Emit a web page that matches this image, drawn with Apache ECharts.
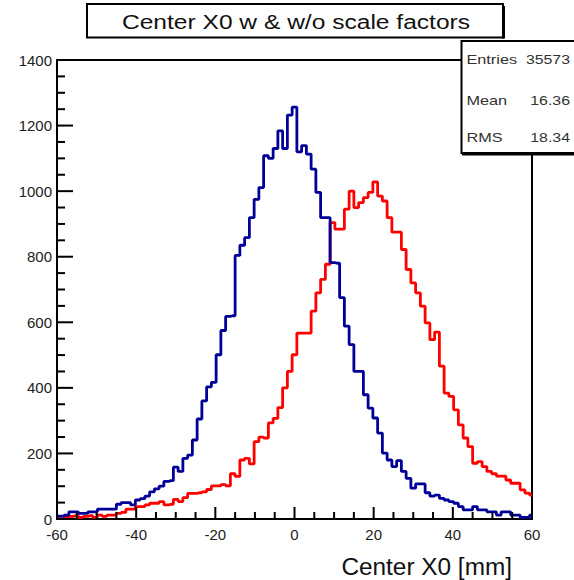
<!DOCTYPE html>
<html>
<head>
<meta charset="utf-8">
<script src="https://cdn.jsdelivr.net/npm/echarts@6/dist/echarts.min.js"></script>
<style>
html,body{margin:0;padding:0;background:#fff;}
#c{width:574px;height:580px;}
</style>
</head>
<body>
<div id="c"></div>
<script>
// Histogram definition: 101 bins of 1.2 mm, centred on -60 ... 60
const binStart = -60;
const binWidth = 1.2;
// Bin contents (left to right)
const blueCounts = [9,9,12,22,22,17,17,22,22,30, 30,30,30,45,50,50,43,58,62,70,
  83,92,100,115,117,158,145,185,195,241, 305,360,403,417,501,575,618,620,804,835,
  858,919,975,1011,1108,1100,1130,1184,1130,1232, 1256,1120,1139,1113,1067,996,919,919,782,780,
  675,588,532,450,450,379,338,308,262,201, 180,160,178,145,124,94,107,107,80,70,
  73,63,58,53,48,38,28,28,38,28, 28,22,22,12,22,22,12,12,5,5, 12];
const redCounts = [5,8,5,8,10,5,8,10,5,12, 8,12,12,17,20,30,30,38,38,43,
  48,48,53,43,45,60,53,65,78,78, 80,83,90,101,101,105,101,138,130,180,
  185,168,236,250,247,293,307,340,400,450, 501,567,567,567,634,690,731,777,904,884,
  884,945,1000,950,965,980,996,1028,985,970, 919,875,875,822,761,720,690,649,598,547,
  570,466,384,374,333,287,247,221,170,175, 160,145,138,131,131,119,109,109,89,79, 73];
const xTicks = [-60, -40, -20, 0, 20, 40, 60];
const yTicks = [0, 200, 400, 600, 800, 1000, 1200, 1400];
const xMinorStep = 5;
const yMinorStep = 50;
const titleText = 'Center X0 w & w/o scale factors';
const xTitle = 'Center X0 [mm]';
const statsLabels = ['Entries', 'Mean', 'RMS'];
const statsValues = ['35573', '16.36', '18.34'];

function toPairs(counts) {
  return counts.map((v, i) => [+(binStart + i * binWidth).toFixed(2), v]);
}

const X_MIN = xTicks[0], X_MAX = xTicks[xTicks.length - 1];
const Y_MIN = yTicks[0], Y_MAX = yTicks[yTicks.length - 1];

// tick marks (value, isMajor)
const xTickMarks = [];
for (let v = X_MIN; v <= X_MAX + 1e-9; v += xMinorStep) xTickMarks.push([v, xTicks.indexOf(v) >= 0 ? 1 : 0]);
const yTickMarks = [];
for (let v = Y_MIN; v <= Y_MAX + 1e-9; v += yMinorStep) yTickMarks.push([v, yTicks.indexOf(v) >= 0 ? 1 : 0]);

const FONT = 'Liberation Sans, Arial, sans-serif';
const chart = echarts.init(document.getElementById('c'), null, {renderer: 'svg'});

const axisCommon = {
  axisLine: {show: true, onZero: false, lineStyle: {color: '#000', width: 2}},
  axisTick: {show: false},
  minorTick: {show: false},
  splitLine: {show: false},
  minorSplitLine: {show: false},
  axisLabel: {color: '#222', fontSize: 15, fontFamily: FONT, formatter: v => String(v)}
};

const statsY = [59.5, 101, 137.5];
const graphics = [
  {type: 'rect', z: 100, shape: {x: 87, y: 4, width: 416, height: 33.5},
   style: {fill: '#fff', stroke: '#000', lineWidth: 2}},
  {type: 'rect', z: 100, shape: {x: 502, y: 6, width: 3, height: 32.5},
   style: {fill: '#000'}},
  {type: 'text', z: 101, x: 296, y: 21.5, scaleX: 1.17,
   style: {text: titleText, font: '21px ' + FONT, fill: '#111', textAlign: 'center', textVerticalAlign: 'middle'}},
  {type: 'rect', z: 100, shape: {x: 461.5, y: 41, width: 130, height: 112},
   style: {fill: '#fff', stroke: '#000', lineWidth: 2}},
  {type: 'rect', z: 100, shape: {x: 462, y: 152.5, width: 130, height: 3},
   style: {fill: '#000'}},
  {type: 'text', z: 101, x: 512, y: 567, scaleX: 1.06,
   style: {text: xTitle, font: '23px ' + FONT, fill: '#111', textAlign: 'right', textVerticalAlign: 'middle'}}
];
statsLabels.forEach((t, i) => {
  graphics.push({type: 'text', z: 101, x: 466.5, y: statsY[i], scaleX: 1.25,
    style: {text: t, font: '13px ' + FONT, fill: '#333', textAlign: 'left', textVerticalAlign: 'middle'}});
  graphics.push({type: 'text', z: 101, x: 570, y: statsY[i], scaleX: 1.22,
    style: {text: statsValues[i], font: '13px ' + FONT, fill: '#333', textAlign: 'right', textVerticalAlign: 'middle'}});
});

chart.setOption({
  animation: false,
  backgroundColor: '#fff',
  grid: {left: 57, right: 42, top: 60, bottom: 61, show: true, borderColor: '#000', borderWidth: 2, backgroundColor: 'transparent'},
  xAxis: Object.assign({}, axisCommon, {
    type: 'value', min: X_MIN, max: X_MAX, interval: 20,
    axisLabel: Object.assign({}, axisCommon.axisLabel, {margin: 8})
  }),
  yAxis: Object.assign({}, axisCommon, {
    type: 'value', min: Y_MIN, max: Y_MAX, interval: 200,
    axisLabel: Object.assign({}, axisCommon.axisLabel, {margin: 5})
  }),
  series: [
    {type: 'line', step: 'middle', showSymbol: false, symbol: 'none', data: toPairs(redCounts),
     lineStyle: {color: '#ff0000', width: 2.8}, z: 3},
    {type: 'line', step: 'middle', showSymbol: false, symbol: 'none', data: toPairs(blueCounts),
     lineStyle: {color: '#000099', width: 2.8}, z: 4},
    {type: 'custom', clip: false, silent: true, z: 5, data: xTickMarks,
     renderItem: function (params, api) {
       const p = api.coord([api.value(0), Y_MIN]);
       const len = api.value(1) ? 12 : 7;
       return {type: 'line', shape: {x1: p[0], y1: p[1], x2: p[0], y2: p[1] - len},
               style: {stroke: '#000', lineWidth: 2}};
     }},
    {type: 'custom', clip: false, silent: true, z: 5, data: yTickMarks.map(d => [X_MIN, d[0], d[1]]),
     renderItem: function (params, api) {
       const p = api.coord([X_MIN, api.value(1)]);
       const len = api.value(2) ? 16 : 8;
       return {type: 'line', shape: {x1: p[0], y1: p[1], x2: p[0] + len, y2: p[1]},
               style: {stroke: '#000', lineWidth: 2}};
     }}
  ],
  graphic: graphics
});
</script>
</body>
</html>
